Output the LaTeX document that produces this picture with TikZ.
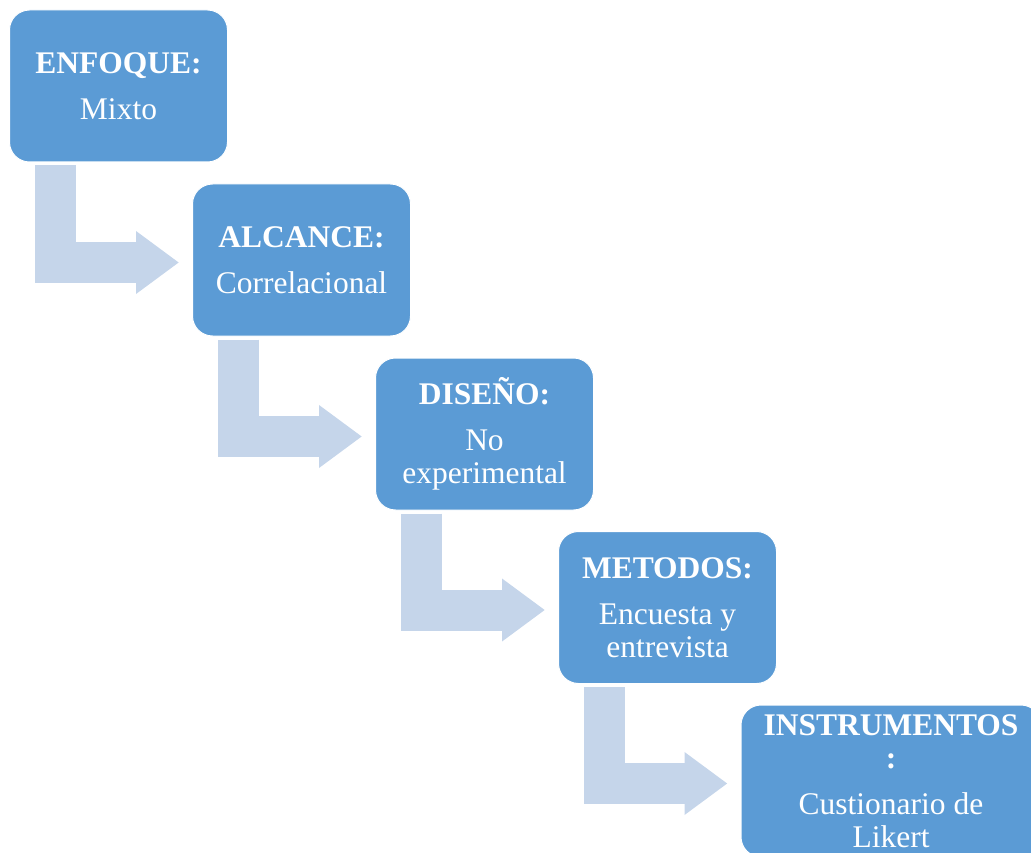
\documentclass[tikz,border=0pt]{standalone}
\usepackage{fontspec}
\setmainfont{Liberation Serif}
\usepackage{xcolor}
\usepackage{tikz}
\usetikzlibrary{arrows.meta}
\definecolor{azul}{HTML}{5B9BD5}
\definecolor{celeste}{HTML}{C5D5EA}

\tikzset{
  caja/.style={draw=white,line width=1pt,fill=azul,rounded corners=20pt,minimum width=218pt,minimum height=152pt,
    inner sep=0pt,text=white,align=center,font=\fontsize{31.5}{33}\selectfont},
  flecha/.style={draw=celeste,line width=41pt,-{Triangle[length=43pt,width=60pt]}}
}

\begin{document}
\begin{tikzpicture}[x=1pt,y=-1pt]
\useasboundingbox(0,0)rectangle(1031,853);
\clip(0,0)rectangle(1031,853);

\node[caja](enfoque)at(118.5,86){\textbf{ENFOQUE:}\\[13pt]Mixto};
\node[caja](alcance)at(301.5,260){\textbf{ALCANCE:}\\[13pt]Correlacional};
\node[caja](diseno)at(484.5,434){\textbf{DISEÑO:}\\[13pt]No\\experimental};
\node[caja](metodos)at(667.5,607.5){\textbf{METODOS:}\\[13pt]Encuesta y\\entrevista};
\node[caja,minimum width=300pt](instrumentos)at(891,781){\textbf{INSTRUMENTOS}\\\textbf{:}\\[13pt]Custionario de\\Likert};

\draw[flecha]([xshift=46.5pt,yshift=-3pt]enfoque.south west)|-([xshift=-13pt,yshift=-2.5pt]alcance.west);
\draw[flecha]([xshift=46.5pt,yshift=-3pt]alcance.south west)|-([xshift=-13pt,yshift=-2.5pt]diseno.west);
\draw[flecha]([xshift=46.5pt,yshift=-3pt]diseno.south west)|-([xshift=-13pt,yshift=-2.5pt]metodos.west);
\draw[flecha]([xshift=46.5pt,yshift=-3pt]metodos.south west)|-([xshift=-13pt,yshift=-2.5pt]instrumentos.west);

\end{tikzpicture}
\end{document}
